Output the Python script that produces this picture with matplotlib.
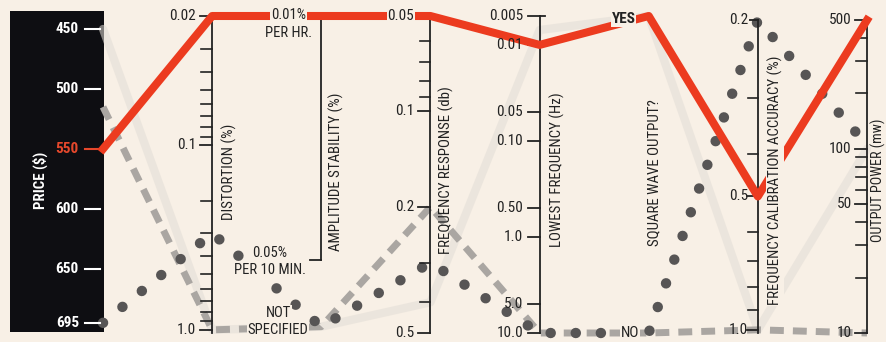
import numpy as np
import matplotlib
matplotlib.use("Agg")
import matplotlib.pyplot as plt
from matplotlib.patches import Rectangle
from matplotlib import font_manager

# pick a narrow font if one is installed
names = {f.name for f in font_manager.fontManager.ttflist}
cond = [f.name for f in font_manager.fontManager.ttflist if 'condensed' in str(f.stretch).lower()]
family = None
for cand in ['Liberation Sans Narrow', 'Roboto Condensed', 'Open Sans Condensed', 'Noto Sans Condensed']:
    if cand in names:
        family = cand
        break
if family is None and 'DejaVu Sans' in cond:
    family = 'DejaVu Sans'
    plt.rcParams['font.stretch'] = 'condensed'
if family is None:
    family = 'Roboto' if 'Roboto' in names else 'Liberation Sans'
plt.rcParams['font.family'] = [family, 'DejaVu Sans']

bg = '#f8f0e6'
ink = '#222222'

# axis titles, left to right
axis_titles = ["PRICE ($)", "DISTORTION (%)", "AMPLITUDE STABILITY (%)",
               "FREQUENCY RESPONSE (db)", "LOWEST FREQUENCY (Hz)",
               "SQUARE WAVE OUTPUT?", "FREQUENCY CALIBRATION ACCURACY (%)",
               "OUTPUT POWER (mw)"]

# one list per generator (value on each axis)
red_vals = [550, 0.02, "0.01% PER HR.", 0.05, 0.01, "YES", 0.5, 500]
dash_vals = [515, 1.0, "NOT SPECIFIED", 0.2, 10.0, "NO", 1.0, 10]
dot_vals = [695, 0.3, "NOT SPECIFIED", 0.3, 10.0, "NO", 0.2, 105]
faint_vals = [450, 1.0, "NOT SPECIFIED", 0.4, 0.007, "YES", 1.0, 100]

# tick values
price_ticks = [450, 500, 550, 600, 650, 695]
dist_major = [0.02, 0.1, 1.0]
dist_labels = ["0.02", "0.1", "1.0"]
dist_minor = [0.03, 0.04, 0.05, 0.06, 0.07, 0.08, 0.09,
              0.2, 0.3, 0.4, 0.5, 0.6, 0.7, 0.8, 0.9]
fr_major = [0.05, 0.1, 0.2, 0.5]
fr_labels = ["0.05", "0.1", "0.2", "0.5"]
fr_minor = [0.06, 0.07, 0.08, 0.09, 0.3, 0.4]
lf_major = [0.005, 0.01, 0.05, 0.1, 0.5, 1.0, 5.0, 10.0]
lf_labels = ["0.005", "0.01", "0.05", "0.10", "0.50", "1.0", "5.0", "10.0"]
cal_major = [0.2, 0.5, 1.0]
cal_labels = ["0.2", "0.5", "1.0"]
cal_minor = [0.3, 0.4, 0.6, 0.7, 0.8, 0.9]
pw_major = [500, 100, 50, 10]
pw_labels = ["500", "100", "50", "10"]
pw_minor = [20, 30, 40, 60, 70, 80, 90, 200, 300, 400]

# scale of each axis: (kind, value_a, y_a, value_b, y_b) or category map
scales = [
    ('lin', 695, 0.032, 450, 0.959),
    ('log', 1.0, 0.01, 0.02, 1.0),
    ('cat', {"0.01% PER HR.": 1.0, "0.05% PER 10 MIN.": 0.23, "NOT SPECIFIED": 0.02}),
    ('log', 0.5, 0.0, 0.05, 1.0),
    ('log', 10.0, 0.0, 0.005, 1.0),
    ('cat', {"YES": 1.0, "NO": 0.0}),
    ('log', 1.0, 0.01, 0.2, 0.987),
    ('log', 10, 0.0, 500, 0.987),
]


def norm(i, v):
    s = scales[i]
    if s[0] == 'cat':
        return s[1][v]
    kind, va, ya, vb, yb = s
    f = np.log10 if kind == 'log' else (lambda x: x)
    return ya + (f(v) - f(va)) / (f(vb) - f(va)) * (yb - ya)


fig = plt.figure(figsize=(8.87, 3.42), dpi=100, facecolor=bg)
ax = fig.add_axes([103 / 887, 9 / 342, 764 / 887, 317 / 342])
ax.set_xlim(0, 7)
ax.set_ylim(0, 1)
ax.axis('off')

# black panel behind the price axis
ax.add_patch(Rectangle((-0.852, 0.003), 0.857, 1.013, facecolor='#0e0e12',
                       edgecolor='none', clip_on=False, zorder=0))

xs = np.arange(8)


def series(vals):
    return [norm(i, v) for i, v in enumerate(vals)]


# generators
ax.plot(xs, series(faint_vals), color='#e2ddd6', lw=6, alpha=0.55,
        solid_capstyle='round', clip_on=False, zorder=1)
ax.plot(xs, series(dash_vals), color='#aaa6a2', lw=5,
        linestyle=(0, (2.0, 1.3)), clip_on=False, zorder=2)
ax.plot(xs, series(dot_vals), color='#575555', lw=7.5,
        linestyle=(0, (0.01, 2.4)), dash_capstyle='round', clip_on=False, zorder=3)
ax.plot(xs, series(red_vals), color='#ec3b1f', lw=5.8,
        solid_joinstyle='round', clip_on=False, zorder=5)

lab = dict(fontsize=11, color=ink, va='center', ha='right', zorder=6)
box = dict(facecolor=bg, edgecolor='none', pad=0.6)

# price axis (white on black)
for v in price_ticks:
    y = norm(0, v)
    c = '#e5482c' if v == 550 else 'white'
    ax.plot([-0.165, -0.028 if v != 550 else 0], [y, y], color=c, lw=1.5,
            clip_on=False, zorder=4)
    ax.text(-0.22, y, str(v), fontsize=11, fontweight='bold', color=c,
            ha='right', va='center', zorder=6)


def numeric_axis(i, major, labels, minor, tick=0.11, off=0.15, top=1.0):
    ax.plot([i, i], [0, top], color=ink, lw=1.3, clip_on=False, zorder=4)
    for v, t in zip(major, labels):
        y = norm(i, v)
        ax.plot([i - tick, i], [y, y], color=ink, lw=1.3, clip_on=False, zorder=4)
        kw = dict(lab)
        if y > 0.97:
            kw['bbox'] = box
        ax.text(i - off, y, t, **kw)
    for v in minor:
        y = norm(i, v)
        ax.plot([i - tick * 0.9, i], [y, y], color=ink, lw=1.2, clip_on=False, zorder=4)


numeric_axis(1, dist_major, dist_labels, dist_minor)
numeric_axis(3, fr_major, fr_labels, fr_minor)
numeric_axis(4, lf_major, lf_labels, [])
ax.plot([4, 4.05], [1, 1], color=ink, lw=1.3, clip_on=False, zorder=4)
numeric_axis(6, cal_major, cal_labels, cal_minor, tick=0.1, off=0.09, top=0.987)
numeric_axis(7, pw_major, pw_labels, pw_minor, tick=0.11, off=0.14, top=0.987)

# amplitude stability axis (categories)
amp = scales[2][1]
ax.plot([2, 2], [amp["0.05% PER 10 MIN."], 1.0], color=ink, lw=1.3, zorder=4)
ax.plot([1.9, 2], [amp["0.05% PER 10 MIN."]] * 2, color=ink, lw=1.3, zorder=4)
cat = dict(fontsize=10.5, color=ink, ha='center', va='center', zorder=6, bbox=box)
ax.text(1.70, 1.003, "0.01%", **cat)
ax.text(1.70, 0.946, "PER HR.", **cat)
ax.text(1.53, 0.252, "0.05%", **cat)
ax.text(1.53, 0.199, "PER 10 MIN.", **cat)
ax.text(1.605, 0.063, "NOT", **cat)
ax.text(1.605, 0.009, "SPECIFIED", **cat)

# square wave categories
ax.text(4.77, 0.99, "YES", fontsize=11, fontweight='bold', color=ink,
        ha='center', va='center', zorder=6, bbox=box)
ax.text(4.83, 0.0, "NO", fontsize=11, color=ink, ha='center', va='center',
        zorder=6, bbox=box)

# axis titles
title_pos = [(-0.577, 0.483), (1.155, 0.508), (2.14, 0.508), (3.15, 0.514),
             (4.165, 0.514), (5.05, 0.505), (6.16, 0.483), (7.105, 0.483)]
for k, (t, (x, y)) in enumerate(zip(axis_titles, title_pos)):
    kw = dict(rotation=90, ha='center', va='center', fontsize=10.7, color=ink, zorder=6)
    if k == 0:
        kw.update(color='white', fontweight='bold')
    if k == 6:
        kw['bbox'] = dict(facecolor=bg, edgecolor='none', pad=1.0)
    if k == 7:
        kw['fontsize'] = 10.2
    ax.text(x, y, t, **kw)

fig.savefig("out.png", dpi=100, facecolor=bg)
